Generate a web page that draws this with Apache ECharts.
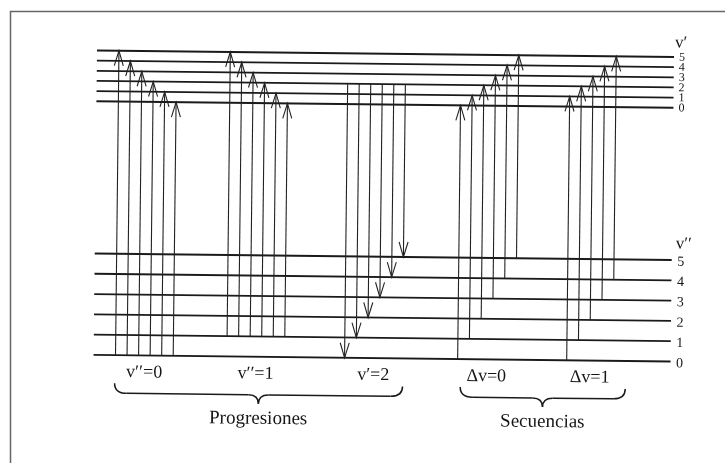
<!DOCTYPE html>
<html>
<head>
<meta charset="utf-8">
<script src="https://cdn.jsdelivr.net/npm/echarts@6/dist/echarts.min.js"></script>
<style>
  html, body { margin: 0; padding: 0; background: #ffffff; }
  #chart { width: 725px; height: 463px; }
</style>
</head>
<body>
<div id="chart"></div>
<script>
// Vibrational quantum numbers and term energies (arbitrary units)
const vLower = [0, 1, 2, 3, 4, 5];                 // v''
const vUpper = [0, 1, 2, 3, 4, 5];                 // v'
const energyLower = [0, 1, 2, 3, 4, 5];
const energyUpper = [12.5, 13, 13.5, 14, 14.5, 15];

// Transitions as [v'', v'] pairs, in left-to-right order inside each group
const progressionV0  = [[0, 5], [0, 4], [0, 3], [0, 2], [0, 1], [0, 0]];
const progressionV1  = [[1, 5], [1, 4], [1, 3], [1, 2], [1, 1], [1, 0]];
const progressionVp2 = [[0, 2], [1, 2], [2, 2], [3, 2], [4, 2], [5, 2]];
const sequenceDv0    = [[0, 0], [1, 1], [2, 2], [3, 3], [4, 4], [5, 5]];
const sequenceDv1    = [[0, 1], [1, 2], [2, 3], [3, 4], [4, 5]];

const groupLabels = ['v′′=0', 'v′′=1', 'v′=2', 'Δv=0', 'Δv=1'];
const groupEmission = [false, false, true, false, false];
const braceLabels = ['Progresiones', 'Secuencias'];
const upperTitle = 'v′';
const lowerTitle = 'v′′';

// ---- layout -------------------------------------------------------------
const groups = [progressionV0, progressionV1, progressionVp2, sequenceDv0, sequenceDv1];
const groupStart = [1.9, 11.55, 21.75, 31.55, 41.0];   // x of first line in each group
const braceSpan = [[1.85, 26.8], [31.8, 46.1]];
const X_MAX = 50;
const Y_MAX = 15;

const TILT = -0.0113;          // whole drawing sits slightly rotated clockwise
const CX = 362.5, CY = 231.5;
const INK = '#1a1a1a';
const TEXT = '#161616';
const SERIF = '"Liberation Serif", "Times New Roman", serif';

function tilt(children) {
  return { type: 'group', rotation: TILT, originX: CX, originY: CY, children: children };
}

// level data: [energy, v, isUpper]
const levelData = [];
vLower.forEach((v, i) => levelData.push([energyLower[i], v, 0]));
vUpper.forEach((v, i) => levelData.push([energyUpper[i], v, 1]));

// transition data: [x, E'', E', emission]
const transitionData = [];
groups.forEach((g, gi) => {
  g.forEach((pair, i) => {
    transitionData.push([groupStart[gi] + i, energyLower[pair[0]], energyUpper[pair[1]], groupEmission[gi] ? 1 : 0]);
  });
});

// group label data: [centre x, index]
const labelData = groups.map((g, gi) => [groupStart[gi] + (g.length - 1) / 2, gi]);
const braceData = braceSpan.map((s, i) => [s[0], s[1], i]);

function renderLevel(params, api) {
  const e = api.value(0), v = api.value(1), upper = api.value(2) === 1;
  const p0 = api.coord([0, e]);
  const p1 = api.coord([X_MAX, e]);
  const kids = [
    { type: 'line', shape: { x1: p0[0], y1: p0[1], x2: p1[0], y2: p1[1] },
      style: { stroke: INK, lineWidth: 1.8 } },
    { type: 'text', x: p1[0] + (upper ? 8 : 9), y: p1[1] + (upper ? 0.5 : 2),
      style: { text: String(v), font: (upper ? '12px ' : '14px ') + SERIF, fill: TEXT,
               align: 'center', verticalAlign: 'middle' } }
  ];
  if (v === 5) {
    kids.push({ type: 'text', x: p1[0] + (upper ? 7 : 12), y: p1[1] - (upper ? 14 : 16),
      style: { text: upper ? upperTitle : lowerTitle, font: '17px ' + SERIF, fill: TEXT,
               align: 'center', verticalAlign: 'middle' } });
  }
  return tilt(kids);
}

function renderTransition(params, api) {
  const x = api.value(0), eLow = api.value(1), eUp = api.value(2), emission = api.value(3) === 1;
  const a = api.coord([x, emission ? eUp : eLow]);
  const b = api.coord([x, emission ? eLow : eUp]);
  const dir = b[1] > a[1] ? 1 : -1;
  const L = 15, W = 4.5;
  return tilt([
    { type: 'line', shape: { x1: a[0], y1: a[1], x2: b[0], y2: b[1] },
      style: { stroke: '#222', lineWidth: 1.1 } },
    { type: 'polyline', shape: { points: [[b[0] - W, b[1] - dir * L], [b[0], b[1]], [b[0] + W, b[1] - dir * L]] },
      style: { stroke: '#222', lineWidth: 1.1, fill: null } }
  ]);
}

function renderGroupLabel(params, api) {
  const p = api.coord([api.value(0), 0]);
  return tilt([
    { type: 'text', x: p[0], y: p[1] + 17,
      style: { text: groupLabels[api.value(1)], font: '18px ' + SERIF, fill: TEXT,
               align: 'center', verticalAlign: 'middle' } }
  ]);
}

function renderBrace(params, api) {
  const p0 = api.coord([api.value(0), 0]);
  const p1 = api.coord([api.value(1), 0]);
  const x0 = p0[0], x1 = p1[0], xc = (x0 + x1) / 2;
  const yTop = p0[1] + 28, yMid = p0[1] + 38, yTip = p0[1] + 47;
  const r1 = 12, r2 = 10;
  const st = { stroke: INK, lineWidth: 1.5, fill: null };
  return tilt([
    { type: 'bezierCurve', shape: { x1: x0, y1: yTop, cpx1: x0, cpy1: yMid, x2: x0 + r1, y2: yMid }, style: st },
    { type: 'line', shape: { x1: x0 + r1, y1: yMid, x2: xc - r2, y2: yMid }, style: st },
    { type: 'bezierCurve', shape: { x1: xc - r2, y1: yMid, cpx1: xc, cpy1: yMid, x2: xc, y2: yTip }, style: st },
    { type: 'bezierCurve', shape: { x1: xc, y1: yTip, cpx1: xc, cpy1: yMid, x2: xc + r2, y2: yMid }, style: st },
    { type: 'line', shape: { x1: xc + r2, y1: yMid, x2: x1 - r1, y2: yMid }, style: st },
    { type: 'bezierCurve', shape: { x1: x1 - r1, y1: yMid, cpx1: x1, cpy1: yMid, x2: x1, y2: yTop }, style: st },
    { type: 'text', x: xc, y: p0[1] + 62,
      style: { text: braceLabels[api.value(2)], font: '19px ' + SERIF, fill: TEXT,
               align: 'center', verticalAlign: 'middle' } }
  ]);
}

const chart = echarts.init(document.getElementById('chart'), null, { renderer: 'canvas' });
chart.setOption({
  animation: false,
  backgroundColor: '#ffffff',
  grid: { left: 95, right: 53, top: 53.5, bottom: 105 },
  xAxis: { type: 'value', min: 0, max: X_MAX, show: false },
  yAxis: { type: 'value', min: 0, max: Y_MAX, show: false },
  graphic: [
    { type: 'polyline', silent: true,
      shape: { points: [[10.5, 463], [10.5, 11.5], [725, 11.5]] },
      style: { stroke: '#666', lineWidth: 1.5, fill: null } }
  ],
  series: [
    { type: 'custom', name: 'levels', silent: true, renderItem: renderLevel, data: levelData },
    { type: 'custom', name: 'transitions', silent: true, renderItem: renderTransition, data: transitionData },
    { type: 'custom', name: 'groupLabels', silent: true, renderItem: renderGroupLabel, data: labelData },
    { type: 'custom', name: 'braces', silent: true, renderItem: renderBrace, data: braceData }
  ]
});
</script>
</body>
</html>
